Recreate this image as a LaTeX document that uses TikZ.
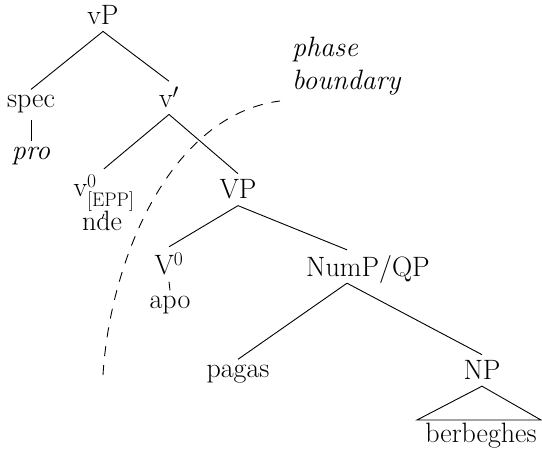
\documentclass[tikz,border=0pt]{standalone}
\usepackage{amsmath}
\begin{document}
\begin{tikzpicture}[
    x=1pt, y=1pt,
    cat/.style={inner sep=6pt, anchor=base, font=\fontsize{28}{33}\selectfont},
    branch/.style={line width=0.9pt},
    boundary/.style={line width=0.9pt, dash pattern=on 10pt off 9pt}
]
\useasboundingbox (0,0) rectangle (542,455);

% Upper part of the tree
\node[cat] (vP) at (103,430) {vP};
\node[cat] (spec) at (31,347) {spec};
\node[cat] (vbar) at (169,347) {v$'$};
\node[cat] (pro) at (31,295) {\itshape pro};
\node[cat] (vzero) at (104,258) {v$^{\text{0}}_{\text{[EPP]}}$};
\node[cat, inner sep=1pt] (nde) at (102,224) {nde};

% Lower part of the tree
\node[cat] (VP) at (238,256) {VP};
\node[cat] (Vzero) at (169,180) {V$^{\text{0}}$};
\node[cat] (apo) at (170,146) {apo};
\node[cat, text depth=0pt] (numP) at (368,178) {NumP/QP};
\node[cat] (pagas) at (238,77) {pagas};
\node[cat] (NP) at (482,75) {NP};
\node[cat] (berb) at (481,12) {berbeghes};

% Branches
\draw[branch] (vP.south) -- (spec.north);
\draw[branch] (vP.south) -- (vbar.north);
\draw[branch] (spec.south) -- (pro.north);
\draw[branch] (vbar.south) -- (vzero.north);
\draw[branch] (vbar.south) -- (VP.north);
\draw[branch] ([yshift=-17pt]vzero.base) -- ([yshift=12pt]nde.base);
\draw[branch] (VP.south) -- (Vzero.north);
\draw[branch] (VP.south) -- ([xshift=-21pt]numP.north);
\draw[branch] (Vzero.south) -- (apo.north);
\draw[branch] ([xshift=-21pt]numP.south) -- (pagas.north);
\draw[branch] ([xshift=-21pt]numP.south) -- (NP.north);

% Triangle over berbeghes
\coordinate (triL) at (417,35);
\coordinate (triR) at (541,35);
\draw[branch] (NP.south) -- (triL) -- (triR) -- cycle;

% Phase boundary
\coordinate (bndlow) at (103,80);
\coordinate (bndhigh) at (280,354);
\draw[boundary] (bndlow) .. controls (110,195) and (170,340) .. (bndhigh);
\node[anchor=base west, inner sep=0pt, align=left, font=\fontsize{28}{33}\selectfont\itshape] (phase) at (292,365) {phase\\boundary};
\end{tikzpicture}
\end{document}
